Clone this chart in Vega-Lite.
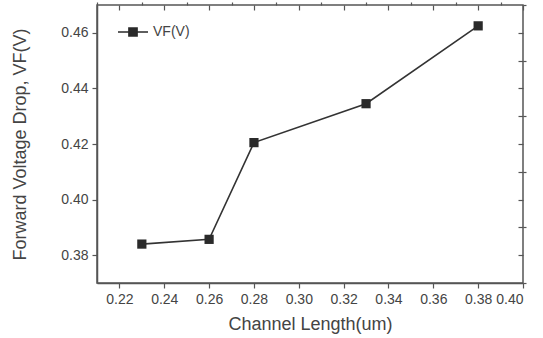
{
  "$schema": "https://vega.github.io/schema/vega-lite/v6.json",
  "width": 426,
  "height": 278,
  "autosize": "none",
  "padding": {"left": 97, "top": 5, "right": 20, "bottom": 55},
  "background": "white",
  "config": {
    "font": "Liberation Sans",
    "view": {"stroke": "#555", "strokeWidth": 1.5},
    "axis": {"domainColor": "#555", "tickColor": "#555", "labelColor": "#444444", "titleColor": "#444444", "grid": false, "labelFont": "Liberation Sans", "titleFont": "Liberation Sans", "labelFontSize": 14, "titleFontSize": 18, "titleFontWeight": "normal", "domainWidth": 1.5, "tickWidth": 1.2}
  },
  "data": {"values": [
    {"length": 0.23, "vf": 0.384, "series": "VF(V)"},
    {"length": 0.26, "vf": 0.3857, "series": "VF(V)"},
    {"length": 0.28, "vf": 0.4205, "series": "VF(V)"},
    {"length": 0.33, "vf": 0.4345, "series": "VF(V)"},
    {"length": 0.38, "vf": 0.4625, "series": "VF(V)"}
  ]},
  "resolve": {"axis": {"x": "independent", "y": "independent"}},
  "layer": [
    {
      "mark": {"type": "line", "color": "#333", "strokeWidth": 1.6},
      "encoding": {
        "x": {"field": "length", "type": "quantitative", "scale": {"domain": [0.21, 0.40], "nice": false, "zero": false},
          "axis": {"title": "Channel Length(um)", "values": [0.22,0.24,0.26,0.28,0.30,0.32,0.34,0.36,0.38,0.40], "format": ".2f", "tickSize": 5, "labelPadding": 4, "titlePadding": 9, "titleColor": "#444444"}},
        "y": {"field": "vf", "type": "quantitative", "scale": {"domain": [0.37, 0.47], "nice": false, "zero": false},
          "axis": {"title": "Forward Voltage Drop, VF(V)", "values": [0.38,0.40,0.42,0.44,0.46], "format": ".2f", "tickSize": 5, "labelPadding": 4, "titlePadding": 31, "titleColor": "#444444"}}
      }
    },
    {
      "mark": {"type": "point", "shape": "square", "filled": true, "color": "#2a2a2a", "size": 85, "opacity": 1},
      "encoding": {
        "x": {"field": "length", "type": "quantitative", "axis": {"title": null, "values": [0.21,0.23,0.25,0.27,0.29,0.31,0.33,0.35,0.37,0.39], "labels": false, "tickSize": 3, "domain": false}},
        "y": {"field": "vf", "type": "quantitative", "axis": {"title": null, "values": [0.37,0.39,0.41,0.43,0.45,0.47], "labels": false, "tickSize": 3, "domain": false}},
        "color": {"field": "series", "type": "nominal", "scale": {"range": ["#2a2a2a"]},
          "legend": {"title": null, "orient": "none", "legendX": 20, "legendY": 11, "symbolType": "M-1,0H1M-0.27,-0.27H0.27V0.27H-0.27Z", "symbolSize": 900, "symbolStrokeWidth": 1.6, "symbolStrokeColor": "#2a2a2a", "symbolFillColor": "#2a2a2a", "labelFontSize": 14, "labelColor": "#444", "labelFont": "Liberation Sans", "labelOffset": 4}}
      }
    },
    {
      "mark": {"type": "point", "opacity": 0},
      "encoding": {
        "x": {"field": "length", "type": "quantitative", "axis": {"orient": "top", "title": null, "values": [0.22,0.24,0.26,0.28,0.30,0.32,0.34,0.36,0.38,0.40], "labels": false, "tickSize": -5, "domain": false}},
        "y": {"field": "vf", "type": "quantitative", "axis": {"orient": "right", "title": null, "values": [0.38,0.39,0.40,0.41,0.42,0.43,0.44,0.45,0.46], "labels": false, "tickSize": -5, "domain": false}}
      }
    }
  ]
}
